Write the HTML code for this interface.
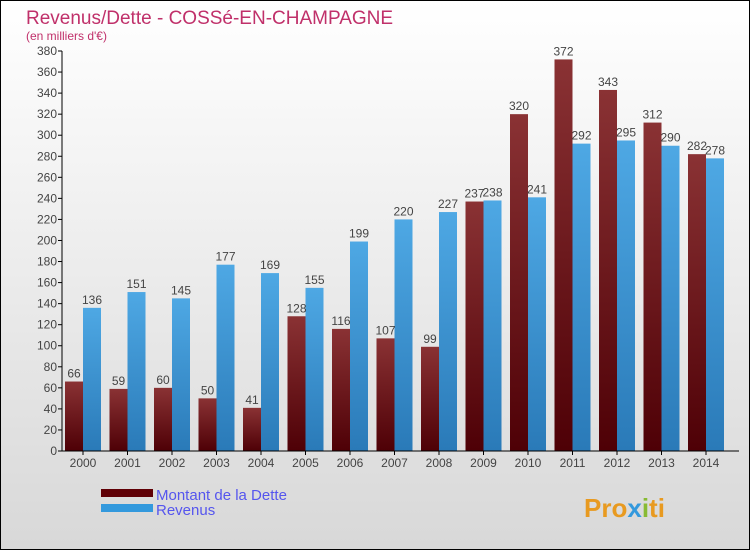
<!DOCTYPE html>
<html><head><meta charset="utf-8"><style>
body{margin:0}
#c{width:748px;height:548px;border:1px solid #000;background:linear-gradient(#fff,#d8d8d8);position:relative;font-family:"Liberation Sans",sans-serif;overflow:hidden}
</style></head><body>
<div id="c">
<svg id="s" width="748" height="548" xmlns="http://www.w3.org/2000/svg">
<defs>
<linearGradient id="gd" x1="0" y1="0" x2="0" y2="1"><stop offset="0" stop-color="#8a3234"/><stop offset="1" stop-color="#4e0006"/></linearGradient>
<linearGradient id="gr" x1="0" y1="0" x2="0" y2="1"><stop offset="0" stop-color="#4ea8e4"/><stop offset="1" stop-color="#2a7ab8"/></linearGradient>
</defs>
<text x="25" y="23" font-size="19" fill="#c0306a">Revenus/Dette - COSSé-EN-CHAMPAGNE</text>
<text x="25" y="39" font-size="12" fill="#c0306a">(en milliers d'€)</text>
<g id="plot"></g>
<rect x="100" y="488" width="52" height="8" fill="#600006"/>
<rect x="100" y="503" width="52" height="8" fill="#3399dd"/>
<text x="155" y="499" font-size="15" fill="#5555ee">Montant de la Dette</text>
<text x="155" y="514" font-size="15" fill="#5555ee">Revenus</text>
<text x="583" y="516" font-size="26" font-weight="bold" fill="#e89a20">Pro<tspan fill="#3399dd">x</tspan><tspan fill="#88bb33">i</tspan>ti</text>
</svg>
</div>
<script>
const years=["2000","2001","2002","2003","2004","2005","2006","2007","2008","2009","2010","2011","2012","2013","2014"];
const dette=[66,59,60,50,41,128,116,107,99,237,320,372,343,312,282];
const revenus=[136,151,145,177,169,155,199,220,227,238,241,292,295,290,278];
const ticks=[0,20,40,60,80,100,120,140,160,180,200,220,240,260,280,300,320,340,360,380];
const NS="http://www.w3.org/2000/svg";
const g=document.getElementById('plot');
const y0=450,ymax=380,ph=400,x0=61,gw=44.5;
const Y=v=>y0-v/ymax*ph;
const X=i=>x0+i*gw;
function mk(t,a){const e=document.createElementNS(NS,t);for(const k in a)e.setAttribute(k,a[k]);g.appendChild(e);return e;}
ticks.forEach(t=>{
 const l=mk('line',{x1:x0-4,x2:x0,y1:Y(t),y2:Y(t),stroke:'#000'});
 
 
 const tx=mk('text',{x:x0-5,y:Y(t)+4,'font-size':12,'text-anchor':'end',fill:'#444'});
 tx.textContent=t;
 
 
});
years.forEach((yr,i)=>{
 const bx=X(i)+3;
 const b1=mk('rect',{x:bx,y:Y(dette[i]),width:18,height:y0-Y(dette[i]),fill:'url(#gd)'});
 
 
 const b2=mk('rect',{x:bx+18,y:Y(revenus[i]),width:18,height:y0-Y(revenus[i]),fill:'url(#gr)'});
 
 
 const t1=mk('text',{x:bx+9,y:Y(dette[i])-4,'font-size':12,'text-anchor':'middle',fill:'#444'});
 t1.textContent=dette[i];
 
 
 const t2=mk('text',{x:bx+27,y:Y(revenus[i])-4,'font-size':12,'text-anchor':'middle',fill:'#444'});
 t2.textContent=revenus[i];
 
 
 const tk=mk('line',{x1:bx+18,x2:bx+18,y1:y0,y2:y0+4,stroke:'#000'});
 
 
 const xl=mk('text',{x:bx+18,y:y0+16,'font-size':12,'text-anchor':'middle',fill:'#444'});
 xl.textContent=yr;
 
 
});
const ax=mk('line',{x1:x0,x2:x0,y1:Y(380),y2:y0,stroke:'#000'});


const bx=mk('line',{x1:x0,x2:738,y1:y0,y2:y0,stroke:'#000'});


</script>
</body></html>
